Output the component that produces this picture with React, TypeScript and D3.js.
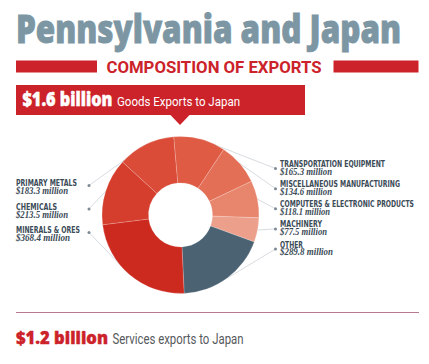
import React from "react";
import * as d3 from "d3";

const title = "Pennsylvania and Japan";
const subtitle = "COMPOSITION OF EXPORTS";
const goodsAmount = "$1.6 billion";
const goodsText = "Goods Exports to Japan";
const servicesAmount = "$1.2 billion";
const servicesText = "Services exports to Japan";

const categories = [
  "TRANSPORTATION EQUIPMENT",
  "MISCELLANEOUS MANUFACTURING",
  "COMPUTERS & ELECTRONIC PRODUCTS",
  "MACHINERY",
  "OTHER",
  "MINERALS & ORES",
  "CHEMICALS",
  "PRIMARY METALS",
];
const values = [165.3, 134.6, 118.1, 77.5, 289.8, 368.4, 213.5, 183.3];
const sliceColors = [
  "#df5b44",
  "#e36f57",
  "#e8866d",
  "#eca08b",
  "#4a6272",
  "#cd2a1f",
  "#d53d2c",
  "#da4b38",
];
const rightLabels = [0, 1, 2, 3, 4];
const leftLabels = [7, 6, 5];

// approximate text widths (layout)
const labelWidths: Record<number, number> = {
  0: 105, 1: 120, 2: 134, 3: 42, 4: 23, 5: 64, 6: 41, 7: 61,
};
const valueWidths: Record<number, number> = {
  0: 52, 1: 52, 2: 50, 3: 47, 4: 53, 5: 54, 6: 52, 7: 52,
};

const W = 429;
const H = 364;
const cx = 180.5;
const cy = 215;
const rOuter = 78.5;
const rInner = 32;
const red = "#cc2229";
const slate = "#3b4b57";

export default function App() {
  const start = (-5 * Math.PI) / 180;
  const pie = d3
    .pie<number>()
    .sort(null)
    .value((d) => d)
    .startAngle(start)
    .endAngle(start + 2 * Math.PI);
  const arcs = pie(values);
  const arc = d3.arc<d3.PieArcDatum<number>>().innerRadius(rInner).outerRadius(rOuter);

  const rightY = d3.scaleLinear().domain([0, 4]).range([167, 247.5]);
  const leftY = d3.scaleLinear().domain([0, 2]).range([186, 233]);

  const dotRight = 275.5;
  const dotLeft = 89;
  const edge = (i: number) => {
    const a = (arcs[i].startAngle + arcs[i].endAngle) / 2;
    return [cx + rOuter * Math.sin(a), cy - rOuter * Math.cos(a)];
  };

  return (
    <svg width={W} height={H} style={{ position: "absolute", left: 0, top: 0, background: "#fff" }}>
      <rect width={W} height={H} fill="#fff" />
      {/* Title */}
      <text
        x={16}
        y={43}
        fontFamily="Open Sans, sans-serif"
        fontWeight={800}
        fontSize={39}
        fill="#7c96a3"
        stroke="#7c96a3"
        strokeWidth={0.9}
        textLength={385}
        lengthAdjust="spacingAndGlyphs"
      >
        {title}
      </text>
      {/* Subtitle bars */}
      <rect x={16} y={60.5} width={81} height={12} fill={red} />
      <rect x={333.5} y={60.5} width={85} height={12} fill={red} />
      <text
        x={106.5}
        y={72.5}
        fontFamily="Roboto, sans-serif"
        fontWeight={700}
        fontSize={17}
        fill={red}
        textLength={215}
        lengthAdjust="spacingAndGlyphs"
      >
        {subtitle}
      </text>
      {/* Goods box */}
      <rect x={16} y={85} width={289} height={30} fill={red} />
      <path d={`M${170},${114.5} L${190},${114.5} L${180},${125} Z`} fill={red} />
      <text
        x={22.5}
        y={106}
        fontFamily="Open Sans, sans-serif"
        fontWeight={800}
        fontSize={20}
        fill="#fff"
        stroke="#fff"
        strokeWidth={0.5}
        textLength={90}
        lengthAdjust="spacingAndGlyphs"
      >
        {goodsAmount}
      </text>
      <text
        x={117}
        y={106}
        fontFamily="Roboto, sans-serif"
        fontWeight={400}
        fontSize={13.5}
        fill="#fff"
        textLength={123}
        lengthAdjust="spacingAndGlyphs"
      >
        {goodsText}
      </text>

      {/* Leader lines */}
      {rightLabels.map((i, k) => {
        const [ex, ey] = edge(i);
        const dy = rightY(k) + 1.5;
        return <line key={"rl" + i} x1={ex} y1={ey} x2={dotRight} y2={dy} stroke="#cdd3d8" strokeWidth={0.8} />;
      })}
      {leftLabels.map((i, k) => {
        const [ex, ey] = edge(i);
        const dy = leftY(k) - 0.5;
        return <line key={"ll" + i} x1={ex} y1={ey} x2={dotLeft} y2={dy} stroke="#cdd3d8" strokeWidth={0.8} />;
      })}

      {/* Donut */}
      <g transform={`translate(${cx},${cy})`}>
        {arcs.map((a, i) => (
          <path key={i} d={arc(a) || ""} fill={sliceColors[i]} stroke="rgba(255,255,255,0.3)" strokeWidth={0.6} />
        ))}
      </g>

      {/* Dots */}
      {rightLabels.map((i, k) => (
        <circle key={"rd" + i} cx={dotRight} cy={rightY(k) + 1.5} r={1.5} fill="#7d8a94" />
      ))}
      {leftLabels.map((i, k) => (
        <circle key={"ld" + i} cx={dotLeft} cy={leftY(k) - 0.5} r={1.5} fill="#7d8a94" />
      ))}

      {/* Right labels */}
      {rightLabels.map((i, k) => (
        <g key={"rt" + i}>
          <text
            x={280}
            y={rightY(k)}
            fontFamily="DejaVu Sans Condensed, DejaVu Sans, sans-serif"
            fontWeight={700}
            fontSize={8.6}
            fill={slate}
            textLength={labelWidths[i]}
            lengthAdjust="spacingAndGlyphs"
          >
            {categories[i]}
          </text>
          <text
            x={280}
            y={rightY(k) + 7.8}
            fontFamily="Liberation Serif, serif"
            fontStyle="italic"
            fontWeight={700}
            fontSize={9.5}
            fill={slate}
            textLength={valueWidths[i]}
            lengthAdjust="spacingAndGlyphs"
          >
            {`$${values[i]} million`}
          </text>
        </g>
      ))}
      {/* Left labels */}
      {leftLabels.map((i, k) => (
        <g key={"lt" + i}>
          <text
            x={16}
            y={leftY(k)}
            fontFamily="DejaVu Sans Condensed, DejaVu Sans, sans-serif"
            fontWeight={700}
            fontSize={9}
            fill={slate}
            textLength={labelWidths[i]}
            lengthAdjust="spacingAndGlyphs"
          >
            {categories[i]}
          </text>
          <text
            x={16}
            y={leftY(k) + 8}
            fontFamily="Liberation Serif, serif"
            fontStyle="italic"
            fontWeight={700}
            fontSize={10}
            fill={slate}
            textLength={valueWidths[i]}
            lengthAdjust="spacingAndGlyphs"
          >
            {`$${values[i]} million`}
          </text>
        </g>
      ))}

      {/* Bottom */}
      <line x1={16} y1={312.5} x2={419} y2={312.5} stroke="#b77a92" strokeWidth={1} />
      <text
        x={16}
        y={344}
        fontFamily="Open Sans, sans-serif"
        fontWeight={800}
        fontSize={17.5}
        fill={red}
        stroke={red}
        strokeWidth={0.4}
        textLength={92}
        lengthAdjust="spacingAndGlyphs"
      >
        {servicesAmount}
      </text>
      <text
        x={112.5}
        y={344}
        fontFamily="Roboto, sans-serif"
        fontWeight={400}
        fontSize={14}
        fill="#55595c"
        textLength={131}
        lengthAdjust="spacingAndGlyphs"
      >
        {servicesText}
      </text>
    </svg>
  );
}
